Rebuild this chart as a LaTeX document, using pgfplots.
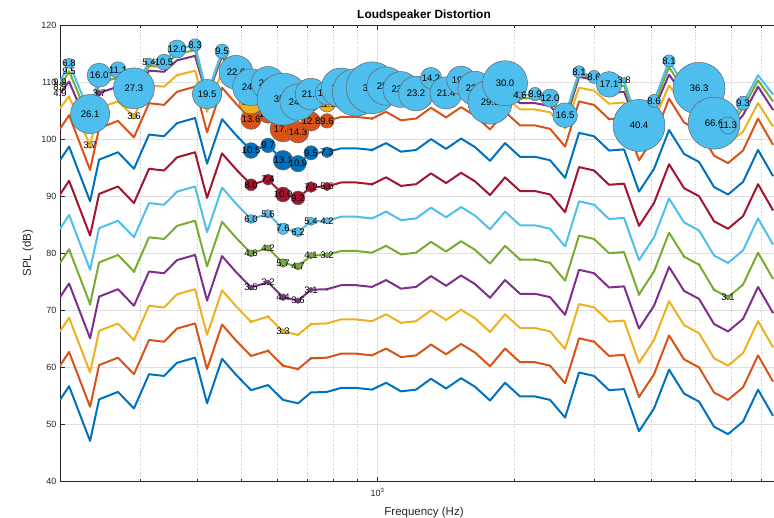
\documentclass[border=0pt]{standalone}
\usepackage{fontspec}
\setmainfont{Liberation Sans}
\usepackage{pgfplots}
\usepackage{pgfplotstable}
\pgfplotsset{compat=1.18}
\definecolor{c0}{RGB}{0,114,189}
\definecolor{c1}{RGB}{217,83,25}
\definecolor{c2}{RGB}{237,177,32}
\definecolor{c3}{RGB}{126,47,142}
\definecolor{c4}{RGB}{119,172,48}
\definecolor{c5}{RGB}{77,190,238}
\definecolor{c6}{RGB}{162,20,47}
\definecolor{axc}{RGB}{38,38,38}
\definecolor{gridc}{RGB}{223,223,223}
\definecolor{gridm}{RGB}{200,200,200}
\newcommand\lblfont{\fontsize{9.5}{11}\selectfont}
\pgfdeclareplotmark{bublab}{%
  \pgfpathcircle{\pgfpointorigin}{\pgfplotmarksize}%
  \pgfusepathqfillstroke
  \pgftext{\color{black}\lblfont\lab}%
}
\pgfplotstableread{
f s0 s1 s2 s3 s4 s5 s6 s7 s8 s9 s10 s11 s12
200.0 54.3 60.3 66.3 72.3 78.3 84.3 90.3 96.3 101.8 105.4 108.0 109.1 110.0
209.4 56.7 62.7 68.7 74.7 80.7 86.7 92.7 98.7 104.2 107.5 110.1 111.9 113.3
232.9 47.1 53.1 59.1 65.1 71.1 77.1 83.1 89.1 94.6 98.9 101.5 103.1 104.4
243.8 54.4 60.4 66.4 72.4 78.4 84.4 90.4 96.4 101.9 105.5 108.1 109.8 111.2
268.3 55.7 61.7 67.7 73.7 79.7 85.7 91.7 97.7 103.2 106.6 109.2 110.8 112.1
290.9 52.8 58.8 64.8 70.8 76.8 82.8 88.8 94.8 100.3 104.0 106.6 107.9 108.9
314.0 58.8 64.8 70.8 76.8 82.8 88.8 94.8 100.8 106.3 109.4 112.0 112.8 113.5
338.8 58.5 64.5 70.5 76.5 82.5 88.5 94.5 100.5 106.0 109.2 111.8 112.7 113.5
361.8 60.8 66.8 72.8 78.8 84.8 90.8 96.8 102.8 108.3 111.2 113.8 114.9 115.8
396.5 61.7 67.7 73.7 79.7 85.7 91.7 97.7 103.7 109.2 112.0 114.6 115.6 116.5
421.3 53.7 59.7 65.7 71.7 77.7 83.7 89.7 95.7 101.2 104.8 107.4 107.7 107.9
454.6 61.5 67.5 73.5 79.5 85.5 91.5 97.5 103.5 109.0 111.9 114.5 115.0 115.4
488.0 58.7 64.7 70.7 76.7 82.7 88.7 94.7 100.7 106.2 109.3 110.9 111.3 111.7
526.5 56.0 62.0 68.0 74.0 80.0 86.0 92.0 98.0 103.5 106.5 107.3 108.3 109.1
573.9 56.9 62.9 68.9 74.9 80.9 86.9 92.9 98.9 104.4 107.3 108.1 109.0 109.8
619.2 54.3 60.3 66.3 72.3 78.3 84.3 90.3 96.3 101.8 105.0 105.8 106.5 107.0
668.0 53.7 59.7 65.7 71.7 77.7 83.7 89.7 95.7 101.2 104.4 105.2 105.9 106.5
713.6 55.6 61.6 67.6 73.6 79.6 85.6 91.6 97.6 103.1 106.1 106.9 107.5 107.9
773.8 55.7 61.7 67.7 73.7 79.7 85.7 91.7 97.7 103.2 106.2 107.0 107.6 108.1
830.8 56.4 62.4 68.4 74.4 80.4 86.4 92.4 98.4 103.9 106.9 107.7 108.4 109.0
896.5 56.4 62.4 68.4 74.4 80.4 86.4 92.4 98.4 103.9 106.9 107.7 108.0 108.2
972.0 56.1 62.1 68.1 74.1 80.1 86.1 92.1 98.1 103.6 106.6 107.4 108.3 109.0
1043.5 57.3 63.3 69.3 75.3 81.3 87.3 93.3 99.3 104.8 107.7 108.5 108.9 109.3
1125.4 55.8 61.8 67.8 73.8 79.8 85.8 91.8 97.8 103.3 106.3 107.1 108.0 108.7
1214.7 56.1 62.1 68.1 74.1 80.1 86.1 92.1 98.1 103.6 106.6 107.4 107.7 108.0
1310.7 58.0 64.0 70.0 76.0 82.0 88.0 94.0 100.0 105.5 108.3 109.1 110.0 110.7
1414.4 56.3 62.3 68.3 74.3 80.3 86.3 92.3 98.3 103.8 106.8 107.6 107.9 108.1
1526.1 58.1 64.1 70.1 76.1 82.1 88.1 94.1 100.1 105.6 108.4 109.2 109.8 110.3
1637.8 56.6 62.6 68.6 74.6 80.6 86.6 92.6 98.6 104.1 107.0 107.8 108.4 108.9
1767.4 54.2 60.2 66.2 72.2 78.2 84.2 90.2 96.2 101.7 104.6 105.7 106.1 106.5
1907.1 57.3 63.3 69.3 75.3 81.3 87.3 93.3 99.3 104.8 107.4 108.5 109.2 109.8
2057.9 54.9 60.9 66.9 72.9 78.9 84.9 90.9 96.9 102.4 105.2 106.3 107.1 107.7
2220.6 54.9 60.9 66.9 72.9 78.9 84.9 90.9 96.9 102.4 105.2 106.3 107.2 107.9
2396.0 54.3 60.3 66.3 72.3 78.3 84.3 90.3 96.3 101.8 104.7 105.8 106.6 107.2
2585.4 51.2 57.2 63.2 69.2 75.2 81.2 87.2 93.2 98.7 101.9 103.0 103.7 104.2
2774.9 59.1 65.1 71.1 77.1 83.1 89.1 95.1 101.1 106.6 109.0 110.9 111.4 111.8
2994.5 58.5 64.5 70.5 76.5 82.5 88.5 94.5 100.5 106.0 108.5 110.4 110.7 110.9
3230.9 56.0 62.0 68.0 74.0 80.0 86.0 92.0 98.0 103.5 106.2 108.1 108.9 109.6
3485.6 56.2 62.2 68.2 74.2 80.2 86.2 92.2 98.2 103.7 106.4 108.3 109.4 110.3
3760.6 48.8 54.8 60.8 66.8 72.8 78.8 84.8 90.8 96.3 99.7 101.6 102.0 102.4
4057.2 52.8 58.8 64.8 70.8 76.8 82.8 88.8 94.8 100.3 103.3 105.2 106.0 106.7
4378.5 59.6 65.6 71.6 77.6 83.6 89.6 95.6 101.6 107.1 109.4 111.3 112.6 113.7
4724.7 55.4 61.4 67.4 73.4 79.4 85.4 91.4 97.4 102.9 105.7 107.6 108.6 109.5
5097.0 54.0 60.0 66.0 72.0 78.0 84.0 90.0 96.0 101.5 104.4 106.3 107.7 108.9
5499.7 49.6 55.6 61.6 67.6 73.6 79.6 85.6 91.6 97.1 100.4 102.3 102.6 102.8
5903.0 48.3 54.3 60.3 66.3 72.3 78.3 84.3 90.3 95.8 99.3 101.2 101.9 102.4
6370.0 50.5 56.5 62.5 68.5 74.5 80.5 86.5 92.5 98.0 101.3 104.2 105.4 106.3
6873.0 56.1 62.1 68.1 74.1 80.1 86.1 92.1 98.1 103.6 106.3 109.2 110.3 111.2
7418.0 51.5 57.5 63.5 69.5 75.5 81.5 87.5 93.5 99.0 102.2 105.1 106.6 107.8
}\lines
\pgfplotsset{
  bub/.style={scatter, only marks, mark=bublab,
    scatter/use mapped color={draw=black!60, fill=#1},
    mark options={line width=0.5pt},
    visualization depends on={min(0.75*\thisrow{d},26) \as \rad},
    visualization depends on={value \thisrow{d} \as \lab},
    scatter/@pre marker code/.append style={/tikz/mark size=\rad},
  },
  dots/.style={only marks, mark=*, mark size=1.3pt, mark options={fill=#1, draw=#1}},
  ln/.style={#1, line width=2pt, line join=round},
}
\begin{document}
\begin{tikzpicture}
\begin{axis}[
  scale only axis, width=728pt, height=456.5pt,
  xmode=log, log basis x=10,
  xmin=200, xmax=8000, ymin=40, ymax=120,
  xtick={1000}, xticklabels={10\textsuperscript{3}},
  minor xtick={200,300,400,500,600,700,800,900,2000,3000,4000,5000,6000,7000},
  ytick={40,50,60,70,80,90,100,110,120},
  yticklabels={40,50,60,70,80,90,100,110,120},
  xmajorgrids, xminorgrids, ymajorgrids,
  major grid style={gridc, line width=0.5pt},
  minor grid style={gridm, dotted, line width=0.6pt},
  axis line style={axc, line width=0.6pt},
  tick style={axc, line width=0.6pt},
  major tick length=5pt, minor tick length=3pt,
  tick label style={font=\fontsize{9}{10}\selectfont, text=axc},
  xticklabel style={yshift=-3pt},
  xlabel={Frequency (Hz)}, ylabel={SPL (dB)},
  label style={font=\fontsize{11.5}{13}\selectfont, text=axc},
  xlabel style={at={(axis description cs:0.5,0)}, anchor=north, yshift=-22pt},
  ylabel style={at={(axis description cs:-0.044,0.5)}, anchor=center},
  title={Loudspeaker Distortion},
  every axis title/.style={at={(axis description cs:0.5,1)}, anchor=south, font=\bfseries\fontsize{11.9}{13}\selectfont},
]
\addplot[ln=c0] table[x=f,y=s0]{\lines};
\addplot[ln=c1] table[x=f,y=s1]{\lines};
\addplot[ln=c2] table[x=f,y=s2]{\lines};
\addplot[ln=c3] table[x=f,y=s3]{\lines};
\addplot[ln=c4] table[x=f,y=s4]{\lines};
\addplot[ln=c5] table[x=f,y=s5]{\lines};
\addplot[ln=c6] table[x=f,y=s6]{\lines};
\addplot[ln=c0] table[x=f,y=s7]{\lines};
\addplot[ln=c1] table[x=f,y=s8]{\lines};
\addplot[ln=c2] table[x=f,y=s9]{\lines};
\addplot[ln=c3] table[x=f,y=s10]{\lines};
\addplot[ln=c4] table[x=f,y=s11]{\lines};
\addplot[ln=c5] table[x=f,y=s12]{\lines};
% small markers
\addplot[dots=c1] coordinates {(573.9,62.9) (619.2,60.3) (668.0,59.7) (713.6,61.6)};
\addplot[dots=c2] coordinates {(290.9,64.8) (526.5,68.0) (573.9,68.9) (668.0,65.7) (713.6,67.6)};
\addplot[dots=c3] coordinates {(773.8,73.7)};
\addplot[dots=c4] coordinates {(232.9,71.1) (290.9,76.8) (2057.9,78.9) (2220.6,78.9) (2396.0,78.3) (3760.6,72.8) (4724.7,79.4) (5097.0,78.0) (5499.7,73.6)};
\addplot[dots=c6] coordinates {(972.0,92.1)};
\addplot[dots=c0] coordinates {(972.0,98.1)};
\addplot[dots=c1] coordinates {(972.0,103.6)};
% bubbles
\addplot[bub=c2] table[x=f,y=y]{
f y d
619.2 66.3 3.3
};
\addplot[bub=c3] table[x=f,y=y]{
f y d
526.5 74.0 3.5
573.9 74.9 3.2
619.2 72.3 4.4
668.0 71.7 3.6
713.6 73.6 3.1
};
\addplot[bub=c4] table[x=f,y=y]{
f y d
526.5 80.0 4.6
573.9 80.9 4.2
619.2 78.3 5.7
668.0 77.7 4.7
713.6 79.6 4.1
773.8 79.7 3.2
5903.0 72.3 3.1
};
\addplot[bub=c5] table[x=f,y=y]{
f y d
526.5 86.0 6.0
573.9 86.9 5.6
619.2 84.3 7.6
668.0 83.7 6.2
713.6 85.6 5.4
773.8 85.7 4.2
};
\addplot[bub=c6] table[x=f,y=y]{
f y d
526.5 92.0 8.0
573.9 92.9 7.4
619.2 90.3 10.0
668.0 89.7 9.2
713.6 91.6 7.2
773.8 91.7 5.6
};
\addplot[bub=c0] table[x=f,y=y]{
f y d
526.5 98.0 10.5
573.9 98.9 9.7
619.2 96.3 13.1
668.0 95.7 10.9
713.6 97.6 9.5
773.8 97.7 7.3
};
\addplot[bub=c1] table[x=f,y=y]{
f y d
526.5 103.5 13.6
573.9 104.4 12.3
619.2 101.8 17.4
668.0 101.2 14.3
713.6 103.1 12.8
773.8 103.2 9.6
};
\addplot[bub=c2] table[x=f,y=y]{
f y d
232.9 98.9 3.7
290.9 104.0 3.6
526.5 106.5 15.9
573.9 107.3 12.4
619.2 105.0 18.0
668.0 104.4 8.4
713.6 106.1 9.9
773.8 106.2 11.1
};
\addplot[bub=c3] table[x=f,y=y]{
f y d
243.8 108.1 3.7
};
\addplot[draw=none, mark=none, nodes near coords={\lab},
  visualization depends on={value \thisrow{d} \as \lab},
  nodes near coords align={center},
  every node near coord/.append style={font=\lblfont, text=black, inner sep=0pt}]
  table[x=f,y=y]{
f y d
200.0 108.0 4.9
200.0 109.1 8.5
200.0 110.0 9.9
209.4 111.9 9.5
};
\addplot[bub=c5] table[x=f,y=y]{
f y d
209.4 113.3 6.8
232.9 104.4 26.1
243.8 111.2 16.0
268.3 112.1 11.1
290.9 108.9 27.3
314.0 113.5 5.4
338.8 113.5 10.5
361.8 115.8 12.0
396.5 116.5 8.3
421.3 107.9 19.5
454.6 115.4 9.5
488.0 111.7 22.6
526.5 109.1 24.5
573.9 109.8 22.3
619.2 107.0 35.2
668.0 106.5 24.1
713.6 107.9 21.1
773.8 108.1 15.8
830.8 109.0 26.4
896.5 108.2 31.7
972.0 109.0 34.5
1043.5 109.3 25.6
1125.4 108.7 23.9
1214.7 108.0 23.2
1310.7 110.7 14.2
1414.4 108.1 21.4
1526.1 110.3 19.0
1637.8 108.9 22.8
1767.4 106.5 29.5
1907.1 109.8 30.0
2057.9 107.7 4.6
2220.6 107.9 8.9
2396.0 107.2 12.0
2585.4 104.2 16.5
2774.9 111.8 8.1
2994.5 110.9 8.6
3230.9 109.6 17.1
3485.6 110.3 3.8
3760.6 102.4 40.4
4057.2 106.7 8.6
4378.5 113.7 8.1
4724.7 109.5 12.3
5097.0 108.9 36.3
5499.7 102.8 66.6
5903.0 102.4 11.3
6370.0 106.3 9.3
};
\end{axis}
\pgfresetboundingbox
\useasboundingbox (-60pt,-35.5pt) rectangle (714pt,481.5pt);
\end{tikzpicture}
\end{document}
